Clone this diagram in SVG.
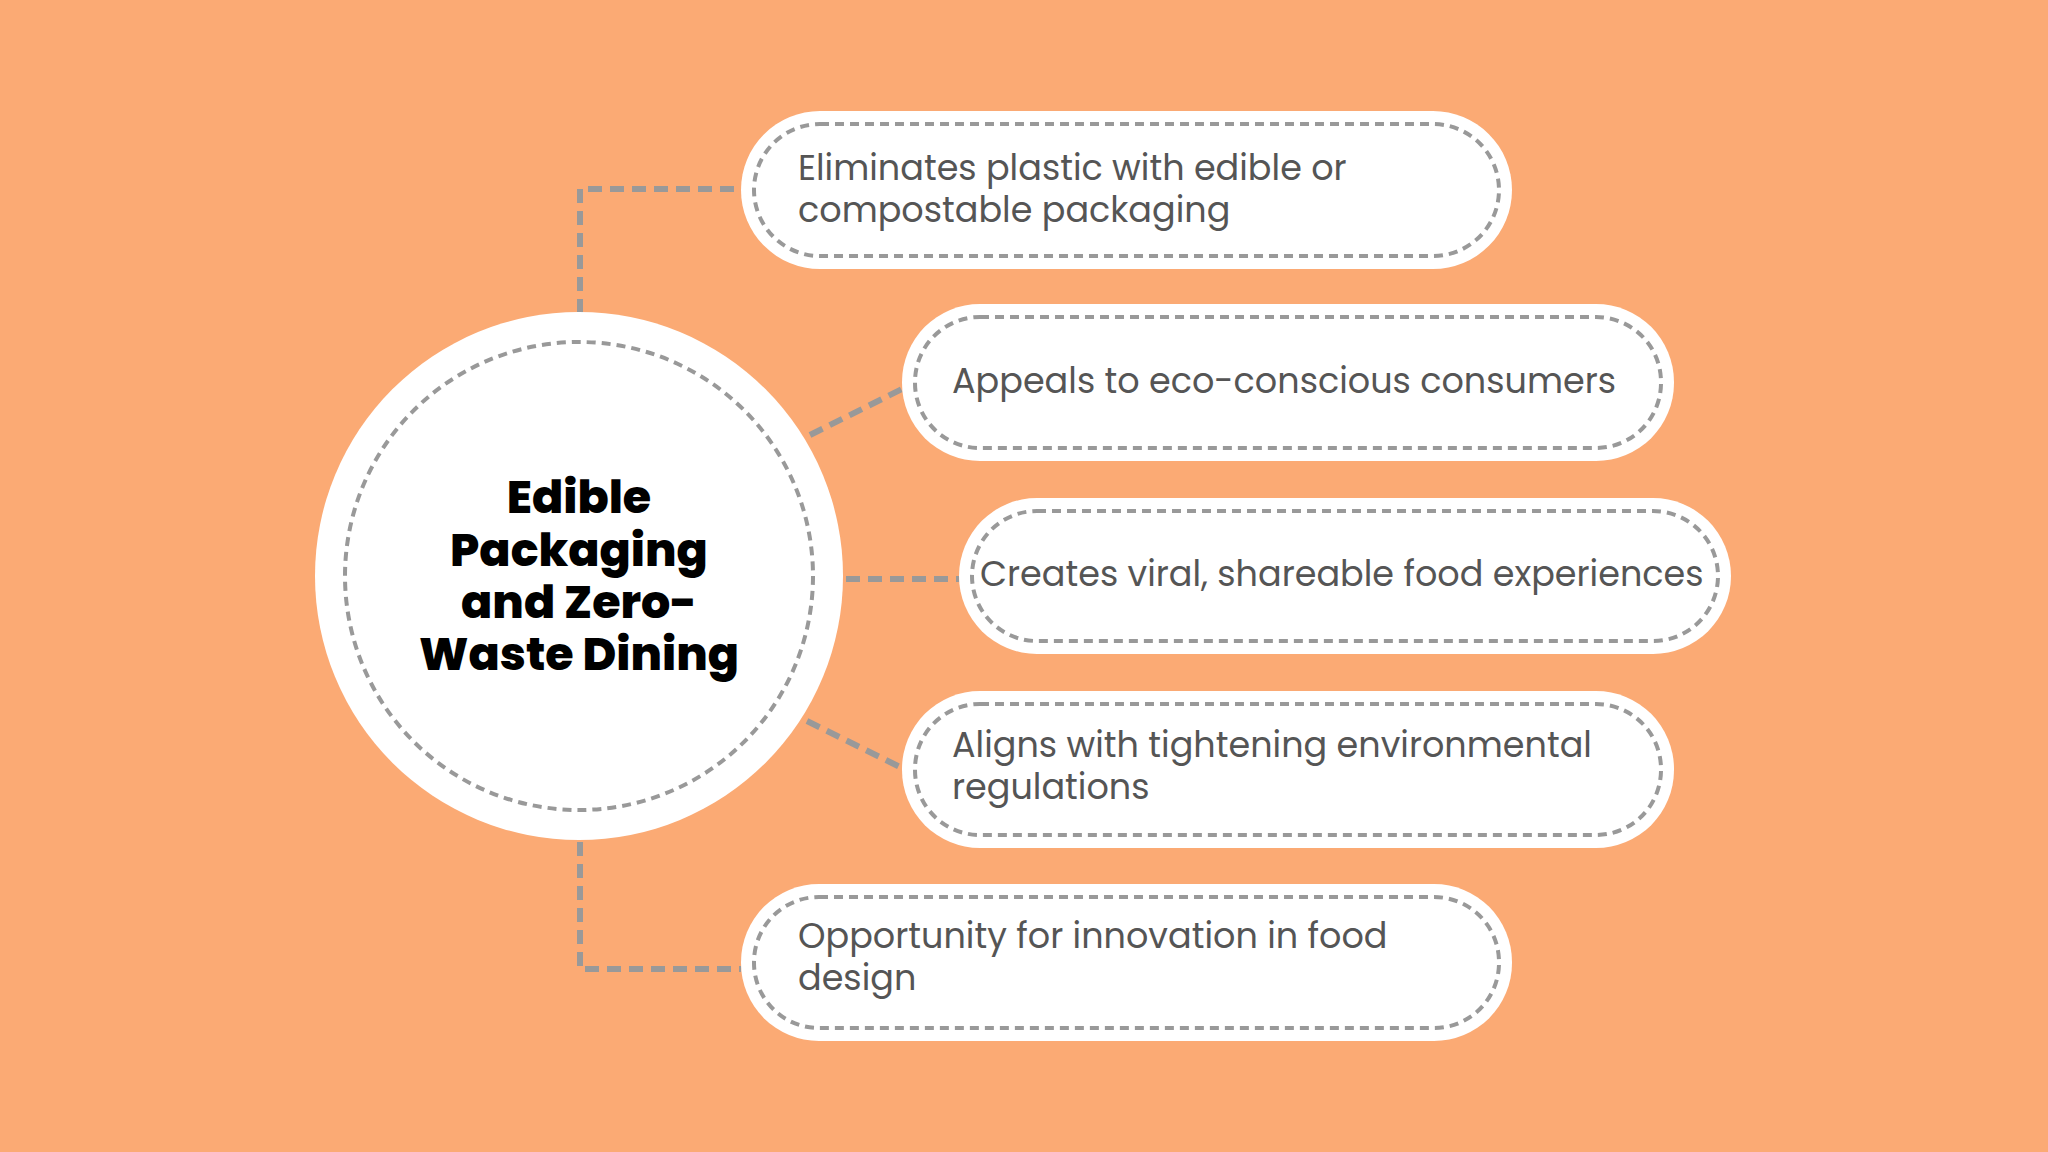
<svg xmlns="http://www.w3.org/2000/svg" width="2048" height="1152" viewBox="0 0 2048 1152">
<style>
.box{fill:#fff}
.dash{fill:none;stroke:#999;stroke-width:4;stroke-dasharray:9 6}
.conn{fill:none;stroke:#999;stroke-width:6;stroke-dasharray:14 8}
.t{font-family:Poppins,"Open Sans","Liberation Sans",sans-serif;font-size:35px;fill:#555}
.title{font-family:Poppins,Inter,"Liberation Sans",sans-serif;font-weight:800;font-size:46px;fill:#000;text-anchor:middle}
</style>
<rect width="2048" height="1152" fill="#FBAA74"/>
<g id="connectors">
<path class="conn" d="M580 313V189H741"/>
<path class="conn" d="M810 435L902 389"/>
<path class="conn" d="M846 579H959"/>
<path class="conn" d="M807 721L902 768"/>
<path class="conn" d="M580 842V969H741"/>
</g>
<g id="center">
<circle cx="579" cy="576" r="264" class="box"/>
<circle cx="579" cy="576" r="234" class="dash"/>
<text class="title"><tspan x="579" y="513">Edible</tspan><tspan x="579" y="566">Packaging</tspan><tspan x="579" y="618">and Zero-</tspan><tspan x="579" y="670">Waste Dining</tspan></text>
</g>
<g id="n1">
<rect x="741" y="111" width="771" height="158" rx="79" class="box"/>
<rect x="754" y="124" width="745" height="132" rx="66" class="dash"/>
<text class="t"><tspan x="798" y="180">Eliminates plastic with edible or</tspan><tspan x="798" y="222">compostable packaging</tspan></text>
</g>
<g id="n2">
<rect x="902" y="304" width="772" height="157" rx="78" class="box"/>
<rect x="915" y="317" width="746" height="131" rx="65" class="dash"/>
<text class="t" x="952" y="393">Appeals to eco-conscious consumers</text>
</g>
<g id="n3">
<rect x="959" y="498" width="772" height="156" rx="78" class="box"/>
<rect x="972" y="511" width="746" height="130" rx="65" class="dash"/>
<text class="t" x="980" y="586">Creates viral, shareable food experiences</text>
</g>
<g id="n4">
<rect x="902" y="691" width="772" height="157" rx="78" class="box"/>
<rect x="915" y="704" width="746" height="131" rx="65" class="dash"/>
<text class="t"><tspan x="952" y="757">Aligns with tightening environmental</tspan><tspan x="952" y="799">regulations</tspan></text>
</g>
<g id="n5">
<rect x="741" y="884" width="771" height="157" rx="78" class="box"/>
<rect x="754" y="897" width="745" height="131" rx="65" class="dash"/>
<text class="t"><tspan x="798" y="948">Opportunity for innovation in food</tspan><tspan x="798" y="990">design</tspan></text>
</g>
</svg>
